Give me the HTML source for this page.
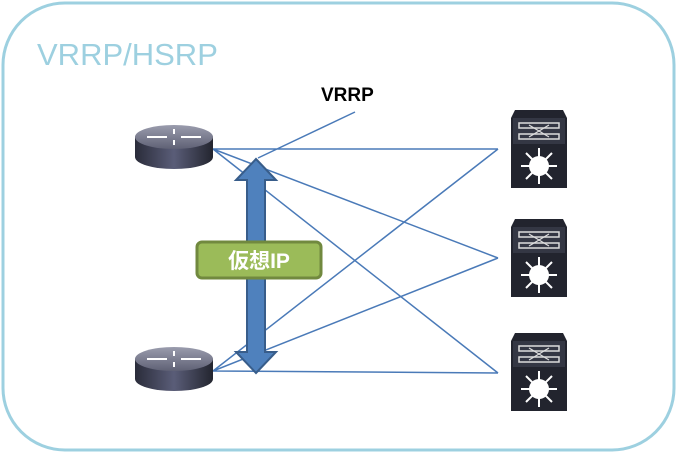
<!DOCTYPE html>
<html><head><style>
body{margin:0;width:677px;height:453px;background:#fff;overflow:hidden}
</style></head><body>
<svg width="677" height="453" xmlns="http://www.w3.org/2000/svg">
<defs>
<linearGradient id="rb" x1="0" x2="1"><stop offset="0" stop-color="#2a2c3a"/><stop offset="0.5" stop-color="#5a5d78"/><stop offset="1" stop-color="#23252f"/></linearGradient>
<linearGradient id="rt" x1="0" y1="0" x2="0" y2="1"><stop offset="0" stop-color="#9a9cad"/><stop offset="1" stop-color="#5f6175"/></linearGradient>
<g id="router">
<path d="M0 12 V32 A39 12 0 0 0 78 32 V12 Z" fill="url(#rb)"/>
<ellipse cx="39" cy="12" rx="39" ry="12" fill="url(#rt)"/>
<g stroke="#fff" stroke-width="2" fill="none"><path d="M12 12H32M46 12H66M39 4V9M39 15V20"/></g>
</g>
<g id="sw">
<path d="M4 0H52L56 8V78H0V8Z" fill="#22242e"/>
<rect x="2" y="8" width="52" height="26" fill="#343744"/>
<rect x="8" y="13" width="40" height="5" fill="none" stroke="#ddd" stroke-width="1.5"/>
<rect x="8" y="24" width="40" height="5" fill="none" stroke="#ddd" stroke-width="1.5"/>
<path d="M18 15L38 27M38 15L18 27" stroke="#ddd" stroke-width="1.2"/>
<circle cx="28" cy="56" r="10" fill="#fff"/>
<g stroke="#fff" stroke-width="2"><path d="M28 38V74M10 56H46M15 43L41 69M41 43L15 69"/></g>
</g>
</defs>
<rect x="3" y="3" width="671" height="447" rx="62" fill="#fff" stroke="#9dd0e0" stroke-width="3"/>
<text x="37" y="65" font-family="Liberation Sans, sans-serif" font-size="31" fill="#9dd0e0">VRRP/HSRP</text>
<text x="321" y="101" font-family="Liberation Sans, sans-serif" font-size="19" font-weight="bold" fill="#000">VRRP</text>
<g stroke="#4a7ab8" stroke-width="1.5" fill="none">
<path d="M213 149L498 149M213 149L498 258M213 149L498 373M213 371L498 149M213 371L498 258M213 371L498 373M355 112L258 158"/>
</g>
<use href="#router" x="135" y="125"/>
<use href="#router" x="135" y="347"/>
<use href="#sw" x="511" y="110"/>
<use href="#sw" x="511" y="219"/>
<use href="#sw" x="511" y="333"/>
<path d="M256 159L276 180H265V352H276L256 373L236 352H247V180H236Z" fill="#4f81bd" stroke="#385d8a" stroke-width="2"/>
<rect x="197" y="242" width="124" height="36" rx="5" fill="#9bbb59" stroke="#71893f" stroke-width="3"/>
<text x="259" y="268" text-anchor="middle" font-family="Liberation Sans, 'Noto Sans CJK JP', sans-serif" font-size="21" font-weight="bold" fill="#fff">仮想IP</text>
</svg>
</body></html>
